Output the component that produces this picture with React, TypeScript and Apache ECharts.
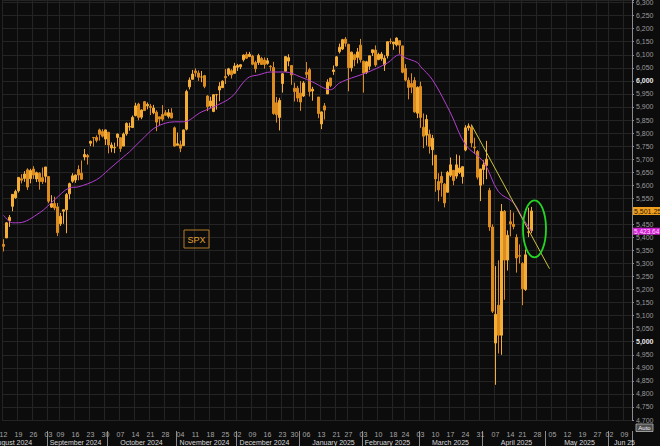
import React, { useEffect, useRef } from "react";
import * as echarts from "echarts";

const FONT = "'Liberation Sans', Arial, sans-serif";

// calendar: trading slots (weekdays minus exchange holidays)
const calendarStart = "2024-08-12";
const calendarEnd = "2025-06-11";
const holidays = [
  "2024-09-02", "2024-11-28", "2024-12-25", "2025-01-01",
  "2025-01-20", "2025-02-17", "2025-04-18", "2025-05-26",
];

// [date, open, high, low, close]
type Bar = [string, number, number, number, number];

const aug2024: Bar[] = [
  ["2024-08-12", 5373, 5393, 5346, 5366],
  ["2024-08-13", 5398, 5458, 5398, 5456],
  ["2024-08-14", 5464, 5486, 5440, 5477],
  ["2024-08-15", 5519, 5566, 5500, 5565],
  ["2024-08-16", 5552, 5583, 5548, 5576],
  ["2024-08-19", 5579, 5630, 5572, 5630],
  ["2024-08-20", 5625, 5642, 5607, 5619],
  ["2024-08-21", 5626, 5654, 5613, 5643],
  ["2024-08-22", 5659, 5665, 5582, 5593],
  ["2024-08-23", 5625, 5663, 5607, 5656],
  ["2024-08-26", 5662, 5673, 5624, 5639],
  ["2024-08-27", 5624, 5652, 5612, 5648],
  ["2024-08-28", 5646, 5650, 5583, 5614],
  ["2024-08-29", 5629, 5668, 5605, 5614],
  ["2024-08-30", 5634, 5670, 5610, 5670],
];

const sep2024: Bar[] = [
  ["2024-09-03", 5633, 5633, 5531, 5539],
  ["2024-09-04", 5516, 5562, 5513, 5530],
  ["2024-09-05", 5530, 5556, 5504, 5513],
  ["2024-09-06", 5517, 5532, 5405, 5418],
  ["2024-09-09", 5452, 5494, 5444, 5481],
  ["2024-09-10", 5500, 5507, 5452, 5506],
  ["2024-09-11", 5506, 5570, 5416, 5564],
  ["2024-09-12", 5567, 5610, 5546, 5606],
  ["2024-09-13", 5615, 5646, 5609, 5636],
  ["2024-09-16", 5620, 5641, 5609, 5639],
  ["2024-09-17", 5660, 5676, 5619, 5639],
  ["2024-09-18", 5646, 5695, 5620, 5623],
  ["2024-09-19", 5708, 5739, 5695, 5718],
  ["2024-09-20", 5714, 5720, 5679, 5708],
  ["2024-09-23", 5761, 5771, 5750, 5768],
  ["2024-09-24", 5783, 5785, 5748, 5782],
  ["2024-09-25", 5783, 5791, 5764, 5772],
  ["2024-09-26", 5812, 5817, 5771, 5795],
  ["2024-09-27", 5806, 5815, 5783, 5788],
  ["2024-09-30", 5777, 5813, 5754, 5812],
];

const oct2024: Bar[] = [
  ["2024-10-01", 5803, 5803, 5722, 5754],
  ["2024-10-02", 5743, 5764, 5726, 5754],
  ["2024-10-03", 5743, 5763, 5723, 5745],
  ["2024-10-04", 5783, 5798, 5749, 5796],
  ["2024-10-07", 5782, 5784, 5728, 5741],
  ["2024-10-08", 5750, 5802, 5750, 5796],
  ["2024-10-09", 5797, 5841, 5790, 5837],
  ["2024-10-10", 5823, 5840, 5809, 5825],
  ["2024-10-11", 5821, 5867, 5820, 5860],
  ["2024-10-14", 5867, 5916, 5864, 5904],
  ["2024-10-15", 5911, 5916, 5849, 5860],
  ["2024-10-16", 5861, 5891, 5853, 5888],
  ["2024-10-17", 5920, 5923, 5885, 5886],
  ["2024-10-18", 5904, 5917, 5891, 5910],
  ["2024-10-21", 5902, 5911, 5869, 5898],
  ["2024-10-22", 5878, 5908, 5872, 5896],
  ["2024-10-23", 5880, 5887, 5807, 5842],
  ["2024-10-24", 5862, 5862, 5830, 5854],
  ["2024-10-25", 5871, 5907, 5845, 5853],
  ["2024-10-28", 5878, 5888, 5868, 5868],
  ["2024-10-29", 5864, 5892, 5856, 5878],
  ["2024-10-30", 5877, 5895, 5856, 5858],
  ["2024-10-31", 5820, 5825, 5748, 5750],
];

const nov2024: Bar[] = [
  ["2024-11-01", 5753, 5802, 5753, 5759],
  ["2024-11-04", 5755, 5771, 5727, 5742],
  ["2024-11-05", 5752, 5813, 5752, 5812],
  ["2024-11-06", 5815, 5966, 5810, 5959],
  ["2024-11-07", 5977, 6013, 5967, 6003],
  ["2024-11-08", 6006, 6042, 6006, 6026],
  ["2024-11-11", 6038, 6048, 6016, 6031],
  ["2024-11-12", 6030, 6040, 6000, 6014],
  ["2024-11-13", 6015, 6038, 5995, 6015],
  ["2024-11-14", 6020, 6023, 5972, 5979],
  ["2024-11-15", 5942, 5945, 5884, 5901],
  ["2024-11-18", 5904, 5939, 5896, 5923],
  ["2024-11-19", 5883, 5949, 5880, 5947],
  ["2024-11-20", 5947, 5950, 5890, 5947],
  ["2024-11-21", 5965, 5995, 5922, 5979],
  ["2024-11-22", 5974, 6002, 5974, 5999],
  ["2024-11-25", 6017, 6045, 5988, 6012],
  ["2024-11-26", 6025, 6050, 6018, 6046],
  ["2024-11-27", 6039, 6045, 6009, 6023],
  ["2024-11-29", 6029, 6069, 6028, 6057],
];

const dec2024: Bar[] = [
  ["2024-12-02", 6052, 6065, 6038, 6059],
  ["2024-12-03", 6054, 6064, 6045, 6062],
  ["2024-12-04", 6081, 6101, 6074, 6099],
  ["2024-12-05", 6101, 6111, 6084, 6087],
  ["2024-12-06", 6093, 6111, 6091, 6102],
  ["2024-12-09", 6095, 6100, 6060, 6064],
  ["2024-12-10", 6070, 6077, 6032, 6046],
  ["2024-12-11", 6070, 6104, 6061, 6097],
  ["2024-12-12", 6086, 6092, 6062, 6063],
  ["2024-12-13", 6080, 6090, 6047, 6063],
  ["2024-12-16", 6067, 6088, 6062, 6077],
  ["2024-12-17", 6056, 6060, 6038, 6054],
  ["2024-12-18", 6051, 6073, 5870, 5875],
  ["2024-12-19", 5916, 5938, 5840, 5870],
  ["2024-12-20", 5860, 5935, 5810, 5925],
  ["2024-12-23", 5990, 6030, 5955, 6027],
  ["2024-12-24", 6037, 6093, 6035, 6093],
  ["2024-12-26", 6076, 6102, 6056, 6089],
  ["2024-12-27", 6059, 6059, 5985, 6023],
  ["2024-12-30", 5972, 5993, 5921, 5959],
  ["2024-12-31", 5972, 5981, 5920, 5934],
];

const jan2025: Bar[] = [
  ["2025-01-02", 5953, 5999, 5885, 5919],
  ["2025-01-03", 5942, 5999, 5938, 5992],
  ["2025-01-06", 6033, 6072, 6010, 6025],
  ["2025-01-07", 6043, 6050, 5940, 5959],
  ["2025-01-08", 5961, 5977, 5924, 5968],
  ["2025-01-10", 5938, 5938, 5857, 5875],
  ["2025-01-13", 5835, 5883, 5815, 5881],
  ["2025-01-14", 5904, 5915, 5852, 5888],
  ["2025-01-15", 5950, 6006, 5950, 5995],
  ["2025-01-16", 6011, 6011, 5976, 5982],
  ["2025-01-17", 6036, 6059, 6023, 6042],
  ["2025-01-21", 6058, 6095, 6055, 6092],
  ["2025-01-22", 6112, 6143, 6105, 6129],
  ["2025-01-23", 6122, 6161, 6118, 6158],
  ["2025-01-24", 6160, 6168, 6131, 6144],
  ["2025-01-27", 6140, 6142, 5960, 6050],
  ["2025-01-28", 6050, 6112, 6036, 6110],
  ["2025-01-29", 6100, 6104, 6056, 6081],
  ["2025-01-30", 6090, 6126, 6067, 6111],
  ["2025-01-31", 6137, 6161, 6070, 6081],
];

const feb2025: Bar[] = [
  ["2025-02-03", 6075, 6078, 5955, 6030],
  ["2025-02-04", 6033, 6077, 6026, 6073],
  ["2025-02-05", 6056, 6097, 6042, 6096],
  ["2025-02-06", 6108, 6119, 6095, 6119],
  ["2025-02-07", 6118, 6136, 6054, 6061],
  ["2025-02-10", 6082, 6108, 6079, 6101],
  ["2025-02-11", 6085, 6111, 6077, 6103],
  ["2025-02-12", 6061, 6098, 6038, 6087],
  ["2025-02-13", 6096, 6151, 6086, 6150],
  ["2025-02-14", 6151, 6163, 6141, 6150],
  ["2025-02-18", 6142, 6149, 6119, 6149],
  ["2025-02-19", 6138, 6167, 6132, 6164],
  ["2025-02-20", 6154, 6154, 6104, 6137],
  ["2025-02-21", 6134, 6135, 6029, 6033],
  ["2025-02-24", 6047, 6064, 5998, 6003],
  ["2025-02-25", 6002, 6013, 5929, 5975],
  ["2025-02-26", 5990, 6029, 5953, 5976],
  ["2025-02-27", 6001, 6014, 5878, 5881],
  ["2025-02-28", 5876, 5979, 5857, 5975],
];

const mar2025: Bar[] = [
  ["2025-03-03", 5979, 5997, 5820, 5860],
  ["2025-03-04", 5822, 5875, 5742, 5788],
  ["2025-03-05", 5792, 5870, 5752, 5852],
  ["2025-03-06", 5795, 5813, 5721, 5749],
  ["2025-03-07", 5736, 5793, 5676, 5780],
  ["2025-03-10", 5715, 5715, 5575, 5624],
  ["2025-03-11", 5614, 5646, 5538, 5582],
  ["2025-03-12", 5634, 5652, 5556, 5609],
  ["2025-03-13", 5604, 5608, 5515, 5532],
  ["2025-03-14", 5573, 5655, 5573, 5649],
  ["2025-03-17", 5638, 5706, 5631, 5678],
  ["2025-03-18", 5657, 5657, 5600, 5618],
  ["2025-03-19", 5635, 5718, 5625, 5678],
  ["2025-03-20", 5649, 5714, 5643, 5666],
  ["2025-03-21", 5633, 5673, 5606, 5671],
  ["2025-03-24", 5735, 5830, 5730, 5820],
  ["2025-03-25", 5820, 5837, 5809, 5827],
  ["2025-03-26", 5822, 5833, 5745, 5762],
  ["2025-03-27", 5746, 5782, 5720, 5743],
  ["2025-03-28", 5729, 5735, 5622, 5631],
  ["2025-03-31", 5600, 5663, 5539, 5662],
];

const apr2025: Bar[] = [
  ["2025-04-01", 5660, 5695, 5603, 5678],
  ["2025-04-02", 5676, 5770, 5623, 5700],
  ["2025-04-03", 5580, 5590, 5425, 5440],
  ["2025-04-04", 5440, 5450, 5110, 5117],
  ["2025-04-07", 4995, 5290, 4835, 5105],
  ["2025-04-08", 5140, 5312, 4955, 5025],
  ["2025-04-09", 5025, 5528, 4950, 5500],
  ["2025-04-10", 5500, 5505, 5161, 5313],
  ["2025-04-11", 5313, 5427, 5273, 5408],
  ["2025-04-14", 5460, 5505, 5404, 5451],
  ["2025-04-15", 5450, 5495, 5431, 5442],
  ["2025-04-16", 5400, 5412, 5265, 5321],
  ["2025-04-17", 5330, 5373, 5300, 5328],
  ["2025-04-21", 5300, 5305, 5140, 5203],
  ["2025-04-22", 5200, 5354, 5195, 5333],
  ["2025-04-23", 5420, 5514, 5401, 5421],
  ["2025-04-24", 5426, 5517, 5416, 5501.25],
];

// moving average
const maPoints: [string, number][] = [
  ["2024-08-12", 5485], ["2024-08-15", 5456], ["2024-08-19", 5456],
  ["2024-08-28", 5494], ["2024-09-05", 5544], ["2024-09-12", 5590],
  ["2024-09-17", 5594], ["2024-09-25", 5621], ["2024-10-01", 5659],
  ["2024-10-08", 5709], ["2024-10-10", 5728], ["2024-10-17", 5785],
  ["2024-10-23", 5824], ["2024-10-31", 5843], ["2024-11-05", 5843],
  ["2024-11-13", 5881], ["2024-11-19", 5900], ["2024-11-27", 5938],
  ["2024-12-04", 5995], ["2024-12-06", 6015], ["2024-12-11", 6023],
  ["2024-12-17", 6034], ["2024-12-24", 6034], ["2025-01-02", 6015],
  ["2025-01-08", 5996], ["2025-01-16", 5966], ["2025-01-22", 5992],
  ["2025-01-28", 6011], ["2025-02-04", 6031], ["2025-02-13", 6069],
  ["2025-02-20", 6100], ["2025-02-24", 6088], ["2025-02-28", 6070],
  ["2025-03-03", 6055], ["2025-03-07", 6004], ["2025-03-17", 5877],
  ["2025-03-24", 5755], ["2025-04-01", 5690], ["2025-04-08", 5575],
  ["2025-04-15", 5533], ["2025-04-21", 5475], ["2025-04-24", 5424],
];

const monthLabels: [string, string][] = [
  ["2024-08-15", "August 2024"],
  ["2024-09-16", "September 2024"],
  ["2024-10-16", "October 2024"],
  ["2024-11-14", "November 2024"],
  ["2024-12-13", "December 2024"],
  ["2025-01-17", "January 2025"],
  ["2025-02-13", "February 2025"],
  ["2025-03-17", "March 2025"],
  ["2025-04-16", "April 2025"],
  ["2025-05-16", "May 2025"],
  ["2025-06-09", "Jun 25"],
];

const yMin = 4700;
const yMax = 6310;
const yStep = 50;
const lastPrice = 5501.25;
const maLast = 5423.64;
const lastPriceText = "5,501.25";
const maLastText = "5,423.64";
const trendFrom: [string, number] = ["2025-03-26", 5831];
const trendTo: [string, number] = ["2025-05-02", 5280];
const circleAt: [string, number] = ["2025-04-25", 5433];
const tickerText = "SPX";

function buildDates(): string[] {
  const out: string[] = [];
  const d = new Date(calendarStart + "T00:00:00Z");
  const end = new Date(calendarEnd + "T00:00:00Z");
  while (d.getTime() <= end.getTime()) {
    const dow = d.getUTCDay();
    const s = d.toISOString().slice(0, 10);
    if (dow !== 0 && dow !== 6 && holidays.indexOf(s) < 0) out.push(s);
    d.setUTCDate(d.getUTCDate() + 1);
  }
  return out;
}

export default function App() {
  const ref = useRef<HTMLDivElement>(null);

  useEffect(() => {
    if (!ref.current) return;
    const chart = echarts.init(ref.current, undefined, { renderer: "svg" });

    const dates = buildDates();
    const allBars = [...aug2024, ...sep2024, ...oct2024, ...nov2024, ...dec2024, ...jan2025, ...feb2025, ...mar2025, ...apr2025];
    const byDate: Record<string, Bar> = {};
    allBars.forEach((b) => (byDate[b[0]] = b));
    const candleData = dates.map((d) => {
      const b = byDate[d];
      return b ? [b[1], b[4], b[3], b[2]] : "-";
    });

    const weekStart = new Set<number>();
    const monthStart = new Set<number>();
    dates.forEach((d, i) => {
      if (i === 0) {
        weekStart.add(i);
        return;
      }
      const prev = dates[i - 1];
      const a = new Date(d + "T00:00:00Z").getUTCDay();
      const b = new Date(prev + "T00:00:00Z").getUTCDay();
      if (a <= b) weekStart.add(i);
      if (d.slice(0, 7) !== prev.slice(0, 7)) monthStart.add(i);
    });
    const monthLabelIdx: Record<number, string> = {};
    monthLabels.forEach(([d, t]) => {
      const i = dates.indexOf(d);
      if (i >= 0) monthLabelIdx[i] = t;
    });

    const fmtY = (v: number) => {
      const r = Math.round(v);
      if (r % yStep !== 0) return "";
      if (Math.abs(r - lastPrice) < 10) return ""; // covered by the last-price tag
      const s = r.toLocaleString("en-US");
      return r % 1000 === 0 ? `{b|${s}}` : s;
    };

    const option: any = {
      animation: false,
      backgroundColor: "#0c0c0c",
      textStyle: { fontFamily: FONT },
      grid: { left: 2, right: 28, top: 0, bottom: 26, containLabel: false, outerBoundsMode: "none" },
      xAxis: [
        {
          type: "category",
          data: dates,
          boundaryGap: true,
          axisLine: { show: false },
          axisTick: { show: false },
          axisLabel: {
            interval: (i: number) => weekStart.has(i),
            formatter: (v: string) => v.slice(8, 10),
            color: "#a6a6a6",
            fontSize: 7,
            fontFamily: FONT,
            margin: 11,
            hideOverlap: false,
          },
          splitLine: {
            show: true,
            interval: (i: number) => weekStart.has(i),
            lineStyle: { color: "#242424", width: 1 },
          },
        },
        {
          type: "category",
          data: dates,
          boundaryGap: true,
          position: "bottom",
          offset: 11,
          axisLine: { show: false },
          axisTick: {
            show: true,
            interval: (i: number) => monthStart.has(i),
            length: 15,
            lineStyle: { color: "#8a8a8a", width: 1 },
          },
          axisLabel: {
            interval: (i: number) => monthLabelIdx[i] !== undefined,
            formatter: (_v: string, i: number) => monthLabelIdx[i] || "",
            color: "#d6d6d6",
            fontSize: 7,
            fontFamily: FONT,
            margin: 8,
            hideOverlap: false,
          },
          splitLine: { show: false },
        },
      ],
      yAxis: {
        type: "value",
        position: "right",
        min: yMin,
        max: yMax,
        interval: yStep,
        axisLine: { show: true, lineStyle: { color: "#8c8c8c" } },
        axisTick: { show: true, length: 2, lineStyle: { color: "#8c8c8c" } },
        axisLabel: {
          formatter: fmtY,
          color: "#9a9a9a",
          fontSize: 7,
          fontFamily: FONT,
          margin: 4,
          rich: { b: { color: "#e8e8e8", fontWeight: "bold", fontSize: 7, fontFamily: FONT } },
        },
        splitLine: { show: true, lineStyle: { color: "#242424", width: 1 } },
      },
      series: [
        {
          type: "candlestick",
          data: candleData,
          barWidth: 1.6,
          itemStyle: {
            color: "#f4ae38",
            color0: "#dc8c1e",
            borderColor: "#f4ae38",
            borderColor0: "#dc8c1e",
            borderWidth: 1,
          },
          markLine: {
            silent: true,
            symbol: ["none", "none"],
            label: { show: false },
            lineStyle: { color: "#c9c43e", width: 1, type: "solid" },
            data: [
              [
                { coord: [dates.indexOf(trendFrom[0]), trendFrom[1]] },
                { coord: [dates.indexOf(trendTo[0]), trendTo[1]] },
              ],
            ],
          },
          z: 2,
        },
        {
          type: "line",
          data: maPoints,
          showSymbol: false,
          smooth: 0.35,
          lineStyle: { color: "#b23fcf", width: 1 },
          z: 3,
        },
      ],
    };
    chart.setOption(option);

    const px = (d: string, v: number) =>
      chart.convertToPixel({ xAxisIndex: 0, yAxisIndex: 0 }, [dates.indexOf(d), v]) as number[];
    const yOf = (v: number) => (chart.convertToPixel({ yAxisIndex: 0 }, v) as number);
    const c = px(circleAt[0], circleAt[1]);
    const yLast = yOf(lastPrice);
    const yMa = yOf(maLast);
    const axisX = 632;

    chart.setOption({
      graphic: [
        {
          type: "ellipse",
          shape: { cx: c[0], cy: c[1], rx: 11.5, ry: 28.5 },
          style: { fill: "none", stroke: "#25d425", lineWidth: 1.8 },
          z: 10,
        },
        {
          type: "rect",
          shape: { x: 184, y: 230, width: 25, height: 18 },
          style: { fill: "none", stroke: "#b47a26", lineWidth: 1 },
          z: 10,
        },
        {
          type: "text",
          x: 196.5,
          y: 239.5,
          style: {
            text: tickerText,
            fill: "#e4a035",
            fontSize: 9,
            fontFamily: FONT,
            align: "center",
            verticalAlign: "middle",
          },
          z: 10,
        },
        {
          type: "rect",
          shape: { x: axisX + 1, y: yLast - 4, width: 28, height: 8 },
          style: { fill: "#f0a020" },
          z: 10,
        },
        {
          type: "text",
          x: axisX + 2,
          y: yLast + 0.5,
          style: {
            text: lastPriceText,
            fill: "#2a1600",
            fontSize: 7,
            fontFamily: FONT,
            align: "left",
            verticalAlign: "middle",
          },
          z: 11,
        },
        {
          type: "rect",
          shape: { x: axisX + 1, y: yMa - 3.5, width: 28, height: 7 },
          style: { fill: "#cf22cf" },
          z: 10,
        },
        {
          type: "text",
          x: axisX + 2,
          y: yMa + 0.5,
          style: {
            text: maLastText,
            fill: "#ffd8ff",
            fontSize: 6.5,
            fontFamily: FONT,
            align: "left",
            verticalAlign: "middle",
          },
          z: 11,
        },
        {
          type: "rect",
          shape: { x: 636, y: 424, width: 17, height: 7.5 },
          style: { fill: "#4c4c4c", stroke: "#b8b8b8", lineWidth: 0.8 },
          z: 10,
        },
        {
          type: "text",
          x: 644.5,
          y: 428,
          style: {
            text: "Auto",
            fill: "#f0f0f0",
            fontSize: 6,
            fontFamily: FONT,
            align: "center",
            verticalAlign: "middle",
          },
          z: 11,
        },
      ],
    });

    return () => chart.dispose();
  }, []);

  return <div ref={ref} style={{ width: 660, height: 446, position: "fixed", left: 0, top: 0 }} />;
}
